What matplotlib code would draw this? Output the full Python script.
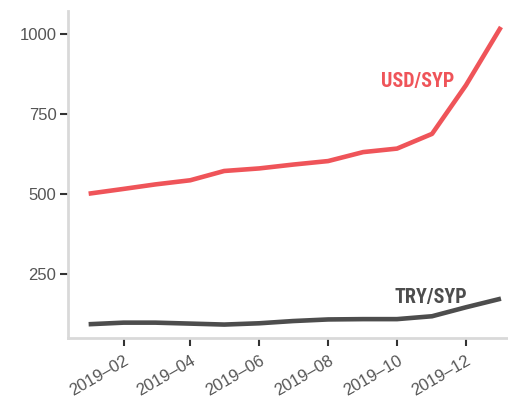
import matplotlib
matplotlib.use("Agg")
import matplotlib.pyplot as plt
import datetime as dt
from matplotlib import font_manager

months = ["2019-01-01", "2019-02-01", "2019-03-01", "2019-04-01", "2019-05-01", "2019-06-01",
          "2019-07-01", "2019-08-01", "2019-09-01", "2019-10-01", "2019-11-01", "2019-12-01",
          "2020-01-01"]
usd_syp = [501, 516, 530, 543, 572, 580, 592, 603, 631, 642, 688, 840, 1022]
try_syp = [93, 98, 98, 95, 92, 96, 103, 108, 109, 109, 118, 146, 173]
tick_dates = ["2019-02-01", "2019-04-01", "2019-06-01", "2019-08-01", "2019-10-01", "2019-12-01"]
tick_labels = ["2019\u201302", "2019\u201304", "2019\u201306", "2019\u201308", "2019\u201310", "2019\u201312"]
y_ticks = [250, 500, 750, 1000]

dates = [dt.datetime.strptime(d, "%Y-%m-%d") for d in months]
tdates = [dt.datetime.strptime(d, "%Y-%m-%d") for d in tick_dates]

names = {f.name for f in font_manager.fontManager.ttflist}
label_family = [n for n in ["Roboto Condensed", "Liberation Sans Narrow", "PT Sans Narrow"] if n in names] + ["DejaVu Sans"]
tick_family = ["Liberation Sans", "DejaVu Sans"]

fig = plt.figure(figsize=(5.08, 4.0), dpi=100)
ax = fig.add_axes([68.3/508, 62/400, 453/508, 327/400])

red = "#ef5459"
dark = "#4d4d4d"
ax.plot(dates, usd_syp, color=red, lw=3.3, solid_capstyle="butt")
ax.plot(dates, try_syp, color=dark, lw=3.3, solid_capstyle="butt")

ax.set_xlim(dt.datetime(2018, 12, 14), dt.datetime(2020, 1, 19))
ax.set_ylim(50, 1072)
ax.set_yticks(y_ticks)
ax.set_xticks(tdates)
ax.set_xticklabels(tick_labels, rotation=30, ha="right", va="top", rotation_mode="anchor")

for s in ["top", "right"]:
    ax.spines[s].set_visible(False)
for s in ["left", "bottom"]:
    ax.spines[s].set_color("#d9d9d9")
    ax.spines[s].set_linewidth(2)

ax.tick_params(axis="both", colors="#333333", width=1.5, length=5.5, labelsize=12,
               labelcolor="#555555")
ax.tick_params(axis="x", pad=5)
ax.tick_params(axis="y", pad=3)
for lab in ax.get_xticklabels() + ax.get_yticklabels():
    lab.set_family(tick_family)

ax.text(dt.datetime(2019, 10, 19), 853, "USD/SYP", color=red, fontsize=14.5, fontweight="bold",
        family=label_family, ha="center", va="center")
ax.text(dt.datetime(2019, 10, 31), 178, "TRY/SYP", color=dark, fontsize=14.5, fontweight="bold",
        family=label_family, ha="center", va="center")

fig.savefig("out.png", dpi=100)
